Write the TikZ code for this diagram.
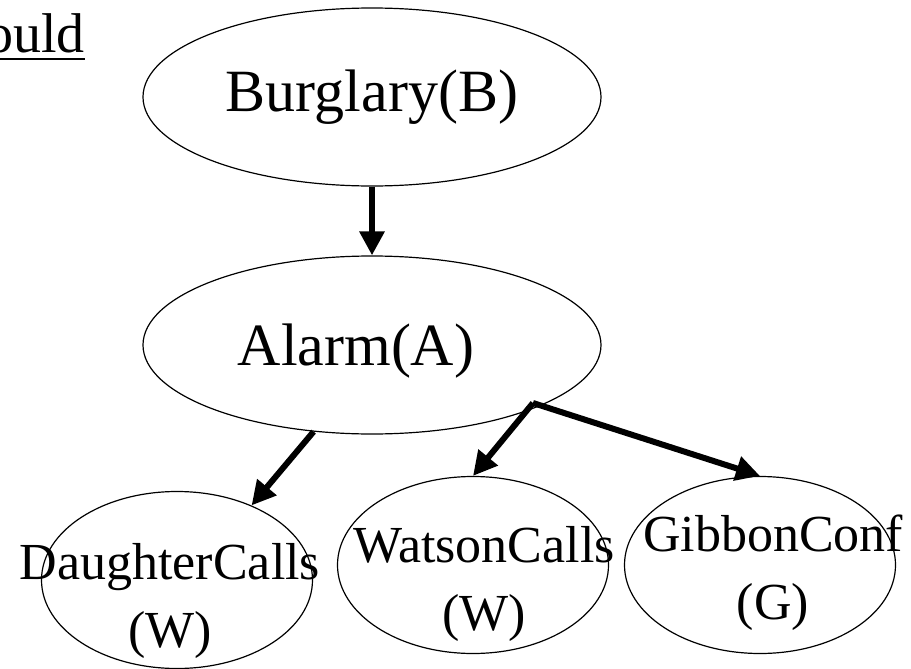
\documentclass[tikz,border=0pt]{standalone}
\usepackage{fontspec}
\setmainfont{Liberation Serif}
\usetikzlibrary{arrows.meta, shapes.geometric}

\begin{document}
\begin{tikzpicture}
      [x=0.5pt,y=-0.5pt,
       var/.style={ellipse,draw,line width=0.6pt,inner sep=0pt},
       big/.style={var,minimum width=229pt,minimum height=89pt,font=\fontsize{30}{36}\selectfont},
       small/.style={var,minimum width=135.5pt,minimum height=88.5pt},
       txt/.style={font=\fontsize{26}{34}\selectfont,align=center,inner sep=0pt},
       arr/.style={line width=3pt,-{Triangle[length=12pt,width=12pt]}}]
      \useasboundingbox (0,0) rectangle (911,669);
      \node[anchor=base east,inner sep=0pt,font=\fontsize{28}{34}\selectfont] (ould) at (85,52)
        {\setbox0=\hbox{ould}\copy0\llap{\rule[-4pt]{\wd0}{1pt}}};
      \node[big] (burglary) at (372,97)  {Burglary(B)};
      \node[big,label={[font=\fontsize{30}{36}\selectfont,inner sep=0pt,xshift=-8pt,yshift=-3pt]center:Alarm(A)}] (alarm) at (372,345) {};
      \node[small,label={[txt,xshift=-3.5pt,yshift=-10.5pt]center:{DaughterCalls\\(W)}}] (daughter) at (177,580) {};
      \node[small,label={[txt,xshift=5.5pt,yshift=-9.5pt]center:{WatsonCalls\\(W)}}] (watson) at (473,565) {};
      \node[small,label={[txt,xshift=6.5pt,yshift=-4pt]center:{GibbonConf\\(G)}}] (gibbon) at (760,565) {};

      \coordinate (fork) at (533,403);
      \draw[arr] (burglary) -- (alarm);
      \draw[arr] (alarm.-124) -- (daughter.45);
      \foreach \to in {watson,gibbon}
        \draw[arr] (fork) -- (\to.north);
\end{tikzpicture}
\end{document}
